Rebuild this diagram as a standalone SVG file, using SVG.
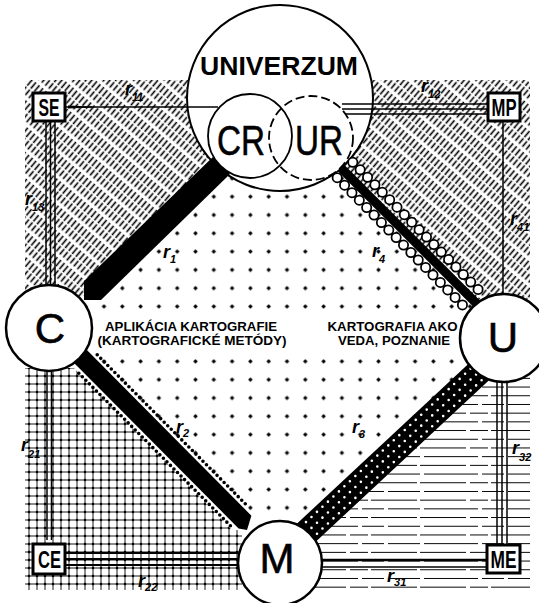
<svg xmlns="http://www.w3.org/2000/svg" width="539" height="603" viewBox="0 0 539 603">
<defs>
<pattern id="hatch" width="4.6" height="20" patternUnits="userSpaceOnUse" patternTransform="rotate(40)">
<line x1="2.3" y1="0" x2="2.3" y2="20" stroke="#000" stroke-width="1.6" stroke-dasharray="8 1.5 7 3.5"/>
</pattern>
<pattern id="dots" x="277.85" y="205.85" width="18.3" height="18.3" patternUnits="userSpaceOnUse">
<path d="M7.2 9.15h3.9M9.15 7.2v3.9" stroke="#000" stroke-width="1.5"/>
<circle cx="9.15" cy="9.15" r="1.4"/>
</pattern>
<pattern id="grid" x="25" y="372" width="8" height="8" patternUnits="userSpaceOnUse">
<path d="M0 4H8M4 0V8" stroke="#000" stroke-width="0.9"/>
<path d="M2.8 4H5.2M4 2.8V5.2" stroke="#000" stroke-width="1.6"/>
</pattern>
<pattern id="ruled" x="300" y="374" width="120" height="17.4" patternUnits="userSpaceOnUse">
<path d="M0 4.35H46M50 4.35H68M71 4.35H117M4 13.05H58M62 13.05H84M88 13.05H120" stroke="#000" stroke-width="1.2"/>
</pattern>
</defs>
<style>
.ol{fill:#fff;stroke:#000;stroke-width:2.5}
.box{fill:#fff;stroke:#000;stroke-width:3}
.bx{font-family:"Liberation Sans",Arial,sans-serif;font-size:23px;font-weight:bold;text-anchor:middle}
.big{font-family:"Liberation Sans",Arial,sans-serif;font-size:42px;text-anchor:middle;stroke:#000;stroke-width:0.6}
.lab{font-family:"Liberation Sans",Arial,sans-serif;font-size:12px;font-weight:bold;text-anchor:middle}
.rl{font-family:"Liberation Sans",Arial,sans-serif;font-style:italic;font-weight:bold;font-size:18px}
.sb{font-size:11px}
.ln{stroke:#000;fill:none}
</style>
<rect width="539" height="603" fill="#fff"/>

<g id="areas">
<path d="M25 86Q25 80 31 80H230V158L92 291V296H25Z" fill="url(#hatch)"/>
<path d="M340 80H524Q530 80 530 86V306H478L345 172Z" fill="url(#hatch)"/>
<path d="M25 368H74L232 530H242V590H25Z" fill="url(#grid)"/>
<path d="M300 545L480 372H530V588H300Z" fill="url(#ruled)"/>
<path d="M92 290L222 165L345 170L475 302L472 378L313 525L243 523L90 358L80 330Z" fill="url(#dots)"/>
<rect x="92" y="316" width="368" height="35" fill="#fff"/>
</g>

<g id="node-univerzum">
<circle cx="280" cy="98" r="93" fill="#fff" stroke="#000" stroke-width="2"/>
<text x="279" y="75" font-family="Liberation Sans, Arial, sans-serif" font-size="26" font-weight="bold" text-anchor="middle" textLength="158" lengthAdjust="spacingAndGlyphs">UNIVERZUM</text>
</g>

<g id="connectors">
<line class="ln" x1="66" y1="107" x2="218" y2="107" stroke-width="1.3"/>
<path d="M68 105.5L92 106.5V107.5L68 108.5Z"/>
<g class="ln" stroke-width="1.5">
<line x1="342" y1="104" x2="487" y2="104"/>
<line x1="342" y1="109" x2="487" y2="109"/>
<line x1="342" y1="114" x2="487" y2="114"/>
<line x1="46" y1="122" x2="46" y2="286"/>
<line x1="50.5" y1="122" x2="50.5" y2="286"/>
<line x1="55" y1="122" x2="55" y2="286"/>
<line x1="503" y1="121" x2="503" y2="297"/>
<line x1="47" y1="371" x2="47" y2="540"/>
<line x1="51.5" y1="371" x2="51.5" y2="540"/>
<line x1="497" y1="380" x2="497" y2="544"/>
<line x1="502" y1="380" x2="502" y2="544"/>
<line x1="507" y1="380" x2="507" y2="544"/>
</g>
<g class="ln" stroke-width="2">
<line x1="66" y1="553" x2="238" y2="553"/>
<line x1="66" y1="559" x2="238" y2="559"/>
<line x1="66" y1="565" x2="238" y2="565"/>
<line x1="320" y1="560" x2="487" y2="560" stroke-width="2.4"/>
<line x1="320" y1="567" x2="487" y2="567" stroke-width="1.3"/>
</g>
<!-- r1 -->
<path d="M84 281L214 156L230 174L101 300H84Z"/>
<!-- r2 -->
<path d="M86.4 349.6L251.4 515.7L247 530L238.6 528.4L73.6 362.4Z"/>
<path d="M97.2 354.8L247.4 505.9M78.8 373.2L230.4 525.7" class="ln" stroke-width="3.6" stroke-linecap="round" stroke-dasharray="0 5"/>
<!-- r3 -->
<path d="M297.1 523.5L473.1 359.5L490.9 378.5L314.9 542.5Z"/>
<path d="M300.5 527.2L476.5 363.2M306 533L482 369M311.5 538.8L487.5 374.8" fill="none" stroke="#000" stroke-width="8" stroke-linecap="round" stroke-dasharray="0 7.5"/>
<path d="M300.5 527.2L476.5 363.2M306 533L482 369M311.5 538.8L487.5 374.8" fill="none" stroke="#fff" stroke-width="2.6" stroke-linecap="round" stroke-dasharray="0 7.5"/>
<!-- r4 -->
<line x1="338" y1="165" x2="477" y2="304" stroke="#000" stroke-width="9"/>
<path d="M352.8 162.3L482.8 294.3M337.2 177.7L467.2 309.7" fill="none" stroke="#000" stroke-width="11" stroke-linecap="round" stroke-dasharray="0 10.5"/>
<path d="M352.8 162.3L482.8 294.3M337.2 177.7L467.2 309.7" fill="none" stroke="#fff" stroke-width="7.5" stroke-linecap="round" stroke-dasharray="0 10.5"/>
<g class="rl">
<text x="125" y="95">r<tspan class="sb" dy="6">11</tspan></text>
<text x="421" y="92">r<tspan class="sb" dy="6">12</tspan></text>
<text x="25" y="205">r<tspan class="sb" dy="6">13</tspan></text>
<text x="510" y="225">r<tspan class="sb" dy="6">41</tspan></text>
<text x="163" y="258">r<tspan class="sb" dy="5">1</tspan></text>
<text x="372" y="257">r<tspan class="sb" dy="6">4</tspan></text>
<text x="176" y="433">r<tspan class="sb" dy="4" font-size="14">2</tspan></text>
<text x="352" y="433">r<tspan class="sb" dy="5">3</tspan></text>
<text x="21" y="451">r<tspan class="sb" dy="7">21</tspan></text>
<text x="512" y="454">r<tspan class="sb" dy="7">32</tspan></text>
<text x="138" y="587">r<tspan class="sb" dy="4">22</tspan></text>
<text x="387" y="582">r<tspan class="sb" dy="4">31</tspan></text>
</g>
</g>

<g id="node-CR">
<circle cx="250" cy="136" r="42" fill="#fff"/>
</g>
<g id="node-UR">
<circle cx="311" cy="138" r="42" fill="#fff"/>
<circle cx="311" cy="138" r="42" fill="none" stroke="#000" stroke-width="1.8" stroke-dasharray="9 4"/>
<text x="319" y="155" class="big" font-size="41" textLength="48" lengthAdjust="spacingAndGlyphs">UR</text>
</g>
<g id="node-CR-outline">
<circle cx="250" cy="136" r="42" fill="none" stroke="#000" stroke-width="1.8"/>
<text x="241" y="155" class="big" font-size="41" textLength="48" lengthAdjust="spacingAndGlyphs">CR</text>
</g>

<g id="node-C">
<circle cx="49" cy="328" r="43" class="ol"/>
<text x="50" y="343" class="big">C</text>
</g>
<g id="node-U">
<circle cx="504" cy="338" r="44" class="ol"/>
<text x="503" y="352" class="big">U</text>
</g>
<g id="node-M">
<circle cx="280" cy="563" r="42" class="ol"/>
<text x="277" y="573" class="big">M</text>
</g>

<g id="node-SE">
<rect x="33" y="93" width="32" height="28" class="box"/>
<text x="49" y="116" class="bx" textLength="21" lengthAdjust="spacingAndGlyphs">SE</text>
</g>
<g id="node-MP">
<rect x="488" y="93" width="32" height="28" class="box"/>
<text x="504" y="116" class="bx" textLength="25" lengthAdjust="spacingAndGlyphs">MP</text>
</g>
<g id="node-CE">
<rect x="33" y="544" width="32" height="30" class="box"/>
<text x="49.5" y="568" class="bx" textLength="23" lengthAdjust="spacingAndGlyphs">CE</text>
</g>
<g id="node-ME">
<rect x="487" y="545" width="33" height="28" class="box"/>
<text x="503.5" y="568" class="bx" textLength="26" lengthAdjust="spacingAndGlyphs">ME</text>
</g>

<g id="labels">
<text x="191" y="331" class="lab" textLength="172" lengthAdjust="spacingAndGlyphs">APLIKÁCIA KARTOGRAFIE</text>
<text x="192" y="345" class="lab" textLength="189" lengthAdjust="spacingAndGlyphs">(KARTOGRAFICKÉ METÓDY)</text>
<text x="392.5" y="331" class="lab" textLength="130" lengthAdjust="spacingAndGlyphs">KARTOGRAFIA AKO</text>
<text x="394" y="345" class="lab" textLength="112" lengthAdjust="spacingAndGlyphs">VEDA, POZNANIE</text>
</g>
</svg>
